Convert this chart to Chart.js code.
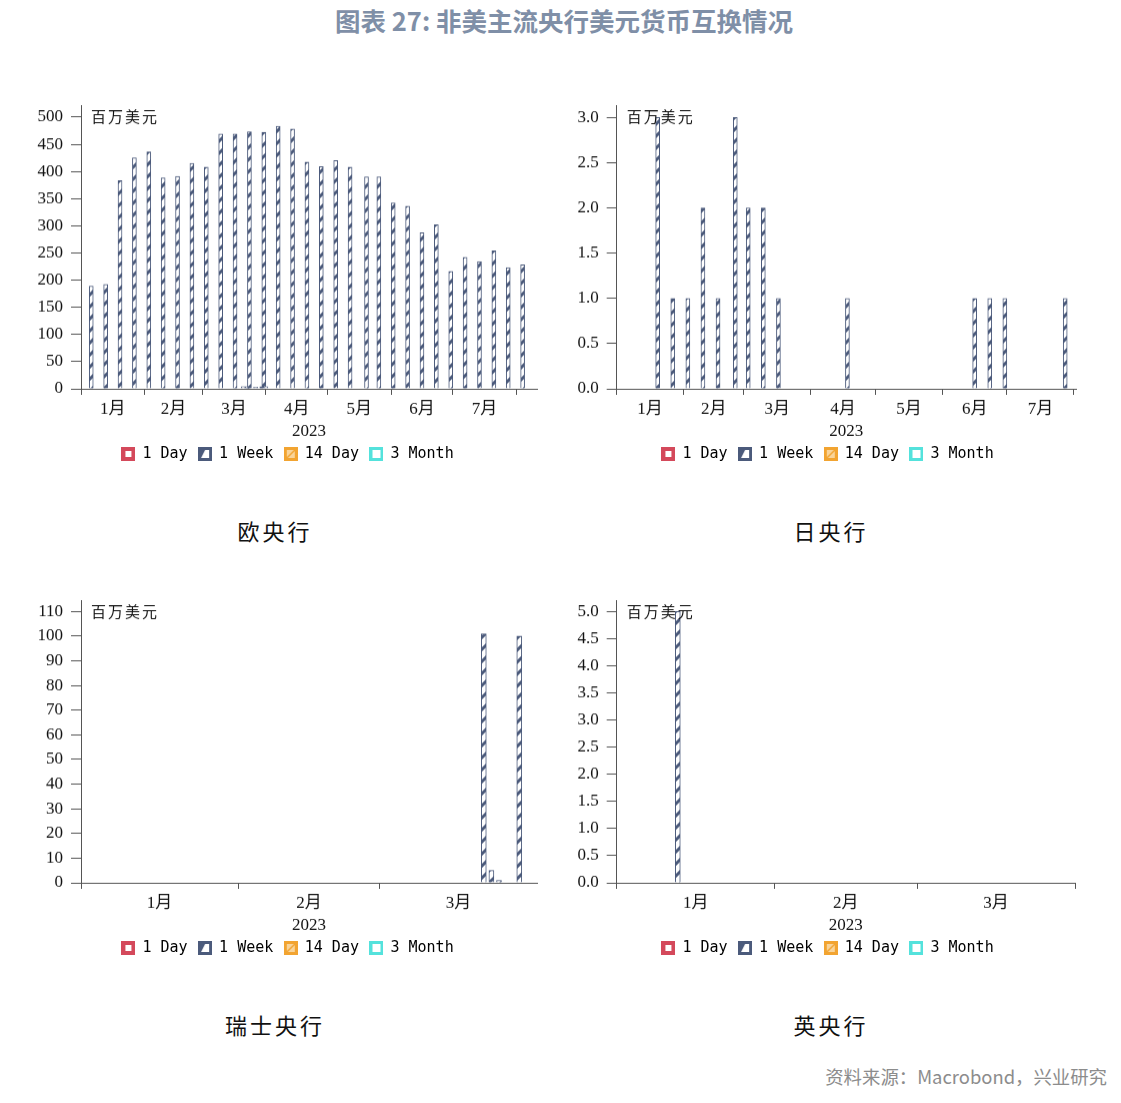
<!DOCTYPE html>
<html>
<head>
<meta charset="utf-8">
<script src="https://cdn.jsdelivr.net/npm/chart.js@4.4.0/dist/chart.umd.min.js"></script>
<style>
  body { margin: 0; background: #fff; }
  #page { position: relative; width: 1121px; height: 1103px; overflow: hidden; font-family: "Noto Sans CJK SC", sans-serif; }
  #title { position: absolute; left: 0; top: 5px; width: 1128px; text-align: center; font-size: 25.5px; line-height: 30px; font-weight: bold; color: #7f8fa7; }
  .panel { position: absolute; }
  .name { position: absolute; width: 400px; text-align: center; font-size: 22px; line-height: 26px; letter-spacing: 3px; color: #111; }
  #src { position: absolute; right: 14px; top: 1065px; font-size: 18.4px; line-height: 23px; color: #8c8c8c; }
</style>
</head>
<body>
<div id="page">
  <div id="title">图表 27: 非美主流央行美元货币互换情况</div>

  <div class="panel" style="left:0px;top:60px;width:540px;height:410.5px"><canvas id="ecb"></canvas></div>
  <div class="panel" style="left:540px;top:60px;width:539px;height:410.5px"><canvas id="boj"></canvas></div>
  <div class="panel" style="left:0px;top:555px;width:540px;height:409.5px"><canvas id="snb"></canvas></div>
  <div class="panel" style="left:540px;top:555px;width:539px;height:409.5px"><canvas id="boe"></canvas></div>

  <div class="name" style="left:75px;top:517px">欧央行</div>
  <div class="name" style="left:631px;top:517px">日央行</div>
  <div class="name" style="left:75px;top:1011px">瑞士央行</div>
  <div class="name" style="left:631px;top:1011px">英央行</div>

  <div id="src">资料来源：Macrobond，兴业研究</div>
</div>

<script>
// 系列与坐标轴文字
const seriesNames = ["1 Day", "1 Week", "14 Day", "3 Month"];
const monthNames = ["1月", "2月", "3月", "4月", "5月", "6月", "7月"];
const monthStarts = [0, 31, 59, 90, 120, 151, 181, 212]; // 2023 年各月首日（距 1 月 1 日的天数）
const yearLabel = "2023";
const unitLabel = "百万美元";

// 欧央行：每周一次 7 天期操作（日期以 2023-01-01 起的天数计）
const ecbDays = [5, 12, 19, 26, 33, 40, 47, 54, 61, 68, 75, 82, 89, 96, 103, 110, 117, 124, 131, 139,
  145, 152, 159, 166, 173, 180, 187, 194, 201, 208, 215];
const ecbWeek = [189, 192, 383, 425, 436, 388, 391, 415, 408, 469, 469, 473, 472, 483, 478, 417, 409, 420, 408, 390,
  390, 342, 336, 287, 302, 216, 242, 234, 254, 223, 228];
// 3 月下旬改为每日操作的小额部分
const ecbDailyDays = [79, 81, 85, 88, 90];
const ecbDailyWeek = [4, 4, 3, 4, 4];
const ecbYTicks = [0, 50, 100, 150, 200, 250, 300, 350, 400, 450, 500];

// 日央行
const bojDays = [19, 26, 33, 40, 47, 55, 61, 68, 75, 107, 166, 173, 180, 208];
const bojWeek = [3, 1, 1, 2, 1, 3, 2, 2, 1, 1, 1, 1, 1, 1];
const bojYTicks = [0, 0.5, 1, 1.5, 2, 2.5, 3];

// 瑞士央行
const snbDays = [79.5, 81, 82.5, 86.5];
const snbWeek = [101, 5, 1, 100];
const snbYTicks = [0, 10, 20, 30, 40, 50, 60, 70, 80, 90, 100, 110];

// 英央行
const boeDays = [12];
const boeWeek = [5.0];
const boeYTicks = [0, 0.5, 1, 1.5, 2, 2.5, 3, 3.5, 4, 4.5, 5];

const navy = "#4b5a7b";
const axisColor = "#555";
const legendColors = ["#d4495b", navy, "#f2a431", "#54e2dc"];

Chart.defaults.font.family = '"Liberation Serif", "Noto Sans CJK SC", serif';
Chart.defaults.color = "#111";

function hatchTile() {
  const s = 12;
  const c = document.createElement("canvas");
  c.width = s; c.height = s;
  const g = c.getContext("2d");
  g.fillStyle = "#fff";
  g.fillRect(0, 0, s, s);
  g.strokeStyle = navy;
  g.lineWidth = 3;
  g.beginPath();
  g.moveTo(0, s); g.lineTo(s, 0);
  g.moveTo(-s / 2, s / 2); g.lineTo(s / 2, -s / 2);
  g.moveTo(s / 2, s * 1.5); g.lineTo(s * 1.5, s / 2);
  g.stroke();
  return c;
}

function legendMarker(i) {
  const c = document.createElement("canvas");
  c.width = 14; c.height = 14;
  const g = c.getContext("2d");
  g.fillStyle = legendColors[i];
  g.fillRect(0, 0, 14, 14);
  g.fillStyle = "#fff";
  if (i === 0) {
    g.fillRect(4, 4, 6, 6);
  } else if (i === 1) {
    g.beginPath();
    g.moveTo(7, 3); g.lineTo(11, 3); g.lineTo(11, 11); g.lineTo(3, 11);
    g.closePath();
    g.fill();
  } else if (i === 2) {
    g.fillStyle = "#f9d49a";
    g.fillRect(3, 3, 8, 8);
    g.strokeStyle = legendColors[2];
    g.lineWidth = 1.5;
    g.beginPath(); g.moveTo(3, 11); g.lineTo(11, 3); g.stroke();
  } else {
    g.fillRect(3, 3, 8, 8);
  }
  return c;
}
const markers = seriesNames.map((n, i) => legendMarker(i));

// 坐标轴内左上角的单位
const unitPlugin = {
  id: "unit",
  afterDraw(chart) {
    const g = chart.ctx;
    g.save();
    g.font = '15px "Noto Sans CJK SC"';
    g.fillStyle = "#111";
    g.textBaseline = "middle";
    [...unitLabel].forEach((ch, i) => g.fillText(ch, chart.chartArea.left + 10 + i * 17, chart.chartArea.top + 11));
    g.restore();
  }
};

function makeChart(id, cfg) {
  const canvas = document.getElementById(id);
  const pattern = canvas.getContext("2d").createPattern(hatchTile(), "repeat");

  const labelAt = {};
  const xTicks = monthStarts.filter(d => d < cfg.xMax || (cfg.endTick && d <= cfg.xMax)).map(d => ({ value: d }));
  for (let i = 0; i < cfg.months; i++) {
    const mid = (monthStarts[i] + monthStarts[i + 1]) / 2;
    labelAt[mid] = monthNames[i];
    xTicks.push({ value: mid });
  }
  xTicks.sort((a, b) => a.value - b.value);

  const points = [];
  cfg.series.forEach(s => s.days.forEach((d, k) => points.push({ x: d, y: s.values[k] })));

  // 图例整体右移，使其居中于原图的位置
  const legendShift = {
    id: "legendShift",
    afterLayout(chart) {
      chart.legend.left += cfg.legendShift;
      chart.legend.right += cfg.legendShift;
    }
  };

  return new Chart(canvas, {
    type: "bar",
    data: {
      datasets: seriesNames.map((name, i) => ({
        label: name,
        data: i === 1 ? points : [],
        backgroundColor: pattern,
        borderColor: navy,
        borderWidth: 1,
        barThickness: cfg.bar,
        grouped: false,
      })),
    },
    options: {
      responsive: true,
      maintainAspectRatio: false,
      animation: false,
      layout: { padding: { left: 20, top: 45, right: 3, bottom: 0 } },
      scales: {
        x: {
          type: "linear",
          min: 0,
          max: cfg.xMax,
          offset: false,
          afterBuildTicks: s => { s.ticks = xTicks.map(t => ({ value: t.value })); },
          afterFit: s => { s.height = 46.5; },
          ticks: {
            autoSkip: false,
            maxRotation: 0,
            padding: 4,
            font: { size: 17 },
            callback: v => labelAt[v] || "",
          },
          grid: {
            drawOnChartArea: false,
            offset: false,
            tickLength: 6,
            tickColor: c => (c.tick && c.tick.label ? "rgba(0,0,0,0)" : axisColor),
          },
          border: { color: axisColor },
          title: { display: true, text: yearLabel, font: { size: 17 }, padding: { top: 0, bottom: -6.7 } },
        },
        y: {
          min: 0,
          max: cfg.yMax,
          afterBuildTicks: s => { s.ticks = cfg.yTicks.map(v => ({ value: v })); },
          afterFit: s => { s.width = cfg.yWidth; },
          ticks: {
            autoSkip: false,
            padding: 8,
            font: { size: 17 },
            callback: v => (cfg.decimals ? v.toFixed(1) : String(v)),
          },
          grid: { drawOnChartArea: false, tickLength: 10, tickColor: axisColor },
          border: { color: axisColor },
        },
      },
      plugins: {
        tooltip: { enabled: false },
        legend: {
          position: "bottom",
          labels: {
            usePointStyle: true,
            boxWidth: 13,
            boxHeight: 13,
            padding: 11,
            color: "#111",
            font: { family: '"DejaVu Sans Mono", monospace', size: 15 },
            generateLabels: () => seriesNames.map((n, i) => ({
              text: n,
              pointStyle: markers[i],
              fillStyle: legendColors[i],
              strokeStyle: legendColors[i],
              lineWidth: 0,
              hidden: false,
              datasetIndex: i,
            })),
          },
        },
      },
    },
    plugins: [unitPlugin, legendShift],
  });
}

makeChart("ecb", {
  series: [{ days: ecbDays, values: ecbWeek }, { days: ecbDailyDays, values: ecbDailyWeek }],
  xMax: 222, months: 7, endTick: true, bar: 4,
  yMax: 522, yTicks: ecbYTicks, decimals: false,
  yWidth: 61, legendShift: 9.3,
});
makeChart("boj", {
  series: [{ days: bojDays, values: bojWeek }],
  xMax: 213, months: 7, endTick: true, bar: 4,
  yMax: 3.136, yTicks: bojYTicks, decimals: true,
  yWidth: 56.7, legendShift: 9.8,
});
makeChart("snb", {
  series: [{ days: snbDays, values: snbWeek }],
  xMax: 90, months: 3, endTick: false, bar: 5,
  yMax: 114.6, yTicks: snbYTicks, decimals: false,
  yWidth: 61, legendShift: 9.3,
});
makeChart("boe", {
  series: [{ days: boeDays, values: boeWeek }],
  xMax: 90, months: 3, endTick: true, bar: 5,
  yMax: 5.21, yTicks: boeYTicks, decimals: true,
  yWidth: 56.7, legendShift: 9.8,
});
</script>
</body>
</html>
